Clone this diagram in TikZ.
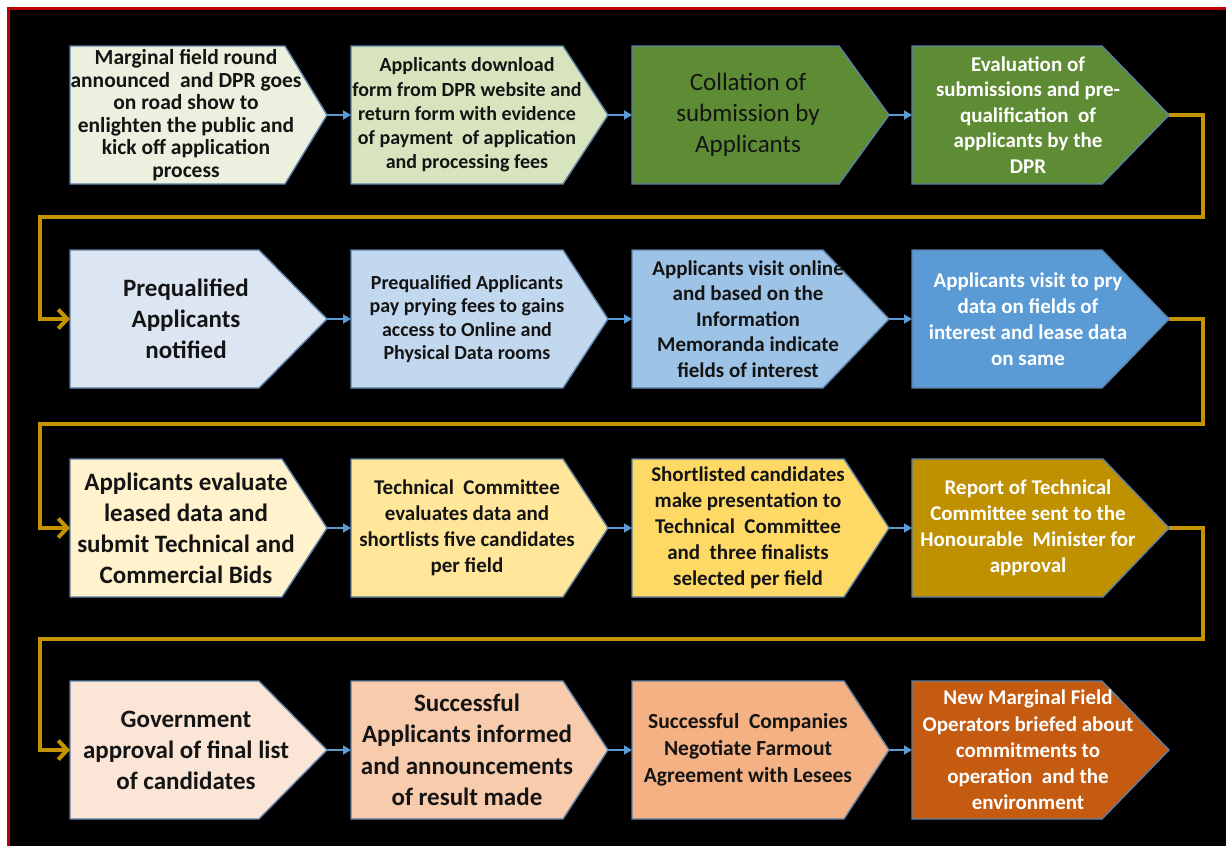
\documentclass[tikz,border=0pt]{standalone}
\usepackage{fontspec}
\setmainfont{Carlito}
\usetikzlibrary{arrows.meta}

% palette
\definecolor{frame}{HTML}{C00000}
\definecolor{edgeblue}{HTML}{5B7FA6}
\definecolor{flowblue}{HTML}{5B9BD5}
\definecolor{goldline}{HTML}{C39300}
\definecolor{ink}{HTML}{141414}
\definecolor{gA}{HTML}{EBF1DE}
\definecolor{gB}{HTML}{D7E4BD}
\definecolor{gC}{HTML}{5E8C35}
\definecolor{bA}{HTML}{DCE6F2}
\definecolor{bB}{HTML}{C2D8EF}
\definecolor{bC}{HTML}{9DC3E6}
\definecolor{bD}{HTML}{5B9BD5}
\definecolor{yA}{HTML}{FFF2CC}
\definecolor{yB}{HTML}{FFE699}
\definecolor{yC}{HTML}{FFD966}
\definecolor{yD}{HTML}{BF9000}
\definecolor{oA}{HTML}{FBE5D6}
\definecolor{oB}{HTML}{F8CBAD}
\definecolor{oC}{HTML}{F4B183}
\definecolor{oD}{HTML}{C55A11}

\newcommand\fsz[2]{\fontsize{#1}{#2}\selectfont}
\newcommand\wsp{\ \ }

\tikzset{
  stageedge/.style={draw=edgeblue, line width=1.4pt, line join=miter},
  stagetext/.style={align=center, inner sep=0pt},
  flow/.style={draw=flowblue, line width=1.8pt, -{Triangle[length=8pt,width=9pt]}},
  turn/.style={draw=goldline, line width=4pt, -{Straight Barb[length=9pt,width=19pt]}},
}

% stage: name, left x, top y, pointer depth, fill, text colour, font, text
\newcommand\stage[8]{%
  \filldraw[stageedge, fill=#5] (#2,#3) -- (#2+257-#4,#3) -- (#2+257,#3+69)
     -- (#2+257-#4,#3+138) -- (#2,#3+138) -- cycle;
  \coordinate (#1-w) at (#2,#3+69);
  \coordinate (#1-tip) at (#2+257,#3+69);
  \node[stagetext, text=#6, font=#7] (#1) at (#2+116,#3+69) {#8};
}

\begin{document}
\begin{tikzpicture}[x=1pt,y=-1pt]
  \useasboundingbox (0,0) rectangle (1226,846);
  \fill[white] (0,0) rectangle (1226,846);
  \fill[black] (8,8) rectangle (1226,846);
  \draw[frame, line width=3pt] (8.5,846) -- (8.5,8.5) -- (1226,8.5);

  % row 1
  \stage{s1}{70}{46}{42}{gA}{ink}{\fsz{21.5}{22.5}\bfseries}{Marginal field round\\announced\wsp and DPR goes\\on road show to\\enlighten the public and\\kick off application\\process}
  \stage{s2}{351}{46}{45}{gB}{ink}{\fsz{20}{24.3}\bfseries}{Applicants download\\form from DPR website and\\return form with evidence\\of payment\wsp of application\\and processing fees}
  \stage{s3}{632}{46}{50}{gC}{ink}{\fsz{25}{31}}{Collation of\\submission by\\Applicants}
  \stage{s4}{912}{46}{67}{gC}{white}{\fsz{21}{25.5}\bfseries}{Evaluation of\\submissions and pre-\\qualification\wsp of\\applicants by the\\DPR}

  % row 2
  \stage{s5}{70}{250}{68}{bA}{ink}{\fsz{25}{31}\bfseries}{Prequalified\\Applicants\\notified}
  \stage{s6}{351}{250}{45}{bB}{ink}{\fsz{20}{23.5}\bfseries}{Prequalified Applicants\\pay prying fees to gains\\access to Online and\\Physical Data rooms}
  \stage{s7}{632}{250}{66}{bC}{ink}{\fsz{21}{25.5}\bfseries}{Applicants visit online\\and based on the\\Information\\Memoranda indicate\\fields of interest}
  \stage{s8}{912}{250}{67}{bD}{white}{\fsz{21}{26}\bfseries}{Applicants visit to pry\\data on fields of\\interest and lease data\\on same}

  % row 3
  \stage{s9}{70}{459}{45}{yA}{ink}{\fsz{25}{31}\bfseries}{Applicants evaluate\\leased data and\\submit Technical and\\Commercial Bids}
  \stage{s10}{351}{459}{45}{yB}{ink}{\fsz{21}{26}\bfseries}{Technical\wsp Committee\\evaluates data and\\shortlists five candidates\\per field}
  \stage{s11}{632}{459}{45}{yC}{ink}{\fsz{21}{26}\bfseries}{Shortlisted candidates\\make presentation to\\Technical\wsp Committee\\and\wsp three finalists\\selected per field}
  \stage{s12}{912}{459}{66}{yD}{white}{\fsz{21}{26}\bfseries}{Report of Technical\\Committee sent to the\\Honourable\wsp Minister for\\approval}

  % row 4
  \stage{s13}{70}{681}{68}{oA}{ink}{\fsz{25}{31}\bfseries}{Government\\approval of final list\\of candidates}
  \stage{s14}{351}{681}{45}{oB}{ink}{\fsz{25}{31.5}\bfseries}{Successful\\Applicants informed\\and announcements\\of result made}
  \stage{s15}{632}{681}{45}{oC}{ink}{\fsz{21.5}{27}\bfseries}{Successful\wsp Companies\\Negotiate Farmout\\Agreement with Lesees}
  \stage{s16}{912}{681}{67}{oD}{white}{\fsz{21}{26.2}\bfseries}{New Marginal Field\\Operators briefed about\\commitments to\\operation\wsp and the\\environment}

  % arrows along each row
  \foreach \a/\b in {s1/s2,s2/s3,s3/s4,s5/s6,s6/s7,s7/s8,s9/s10,s10/s11,s11/s12,s13/s14,s14/s15,s15/s16}
    \draw[flow] (\a-tip) -- (\b-w);

  % returns from the end of one row to the start of the next
  \coordinate (r1) at (1203,217); \coordinate (l1) at (40,217);
  \coordinate (r2) at (1203,424); \coordinate (l2) at (40,424);
  \coordinate (r3) at (1203,639); \coordinate (l3) at (40,639);
  \draw[turn] (s4-tip) -| (r1) -- (l1) |- (s5-w);
  \draw[turn] (s8-tip) -| (r2) -- (l2) |- (s9-w);
  \draw[turn] (s12-tip) -| (r3) -- (l3) |- (s13-w);
\end{tikzpicture}
\end{document}
